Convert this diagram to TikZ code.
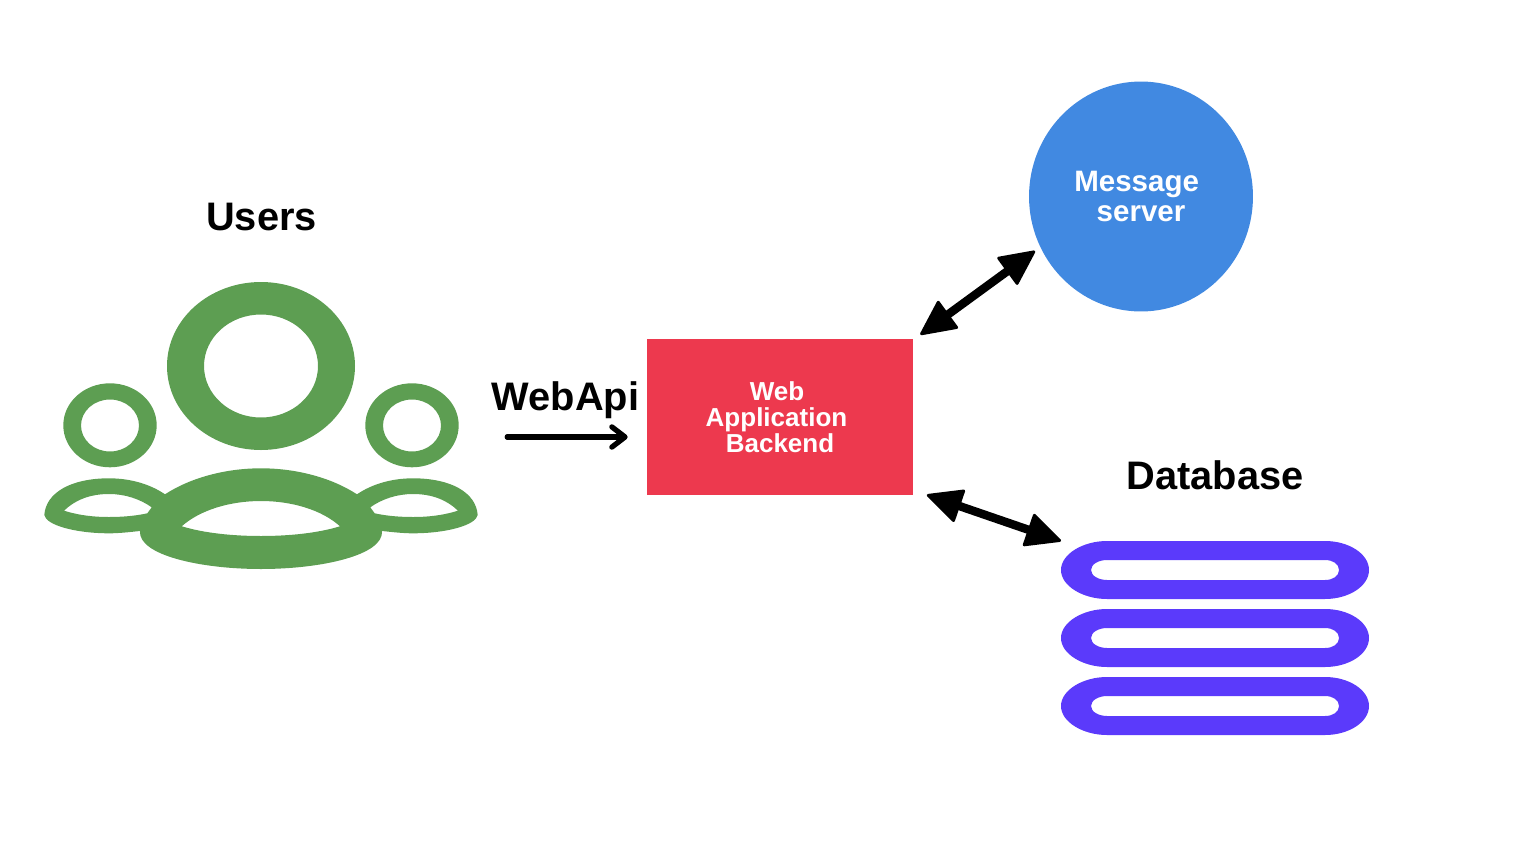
\documentclass[tikz,border=0pt]{standalone}
\usepackage{fontspec}
\setmainfont{Liberation Sans}
\usetikzlibrary{arrows.meta, shapes.geometric}
\definecolor{UserGreen}{HTML}{5D9E52}
\definecolor{BackendRed}{HTML}{ED394E}
\definecolor{MessageBlue}{HTML}{4189E1}
\definecolor{DbViolet}{HTML}{5B3AFB}

\begin{document}
\begin{tikzpicture}[
    x=0.02cm, y=-0.02cm,
    title/.style={font=\fontsize{22.65}{26}\selectfont\bfseries, anchor=base, inner sep=0pt},
    backendbox/.style={
        fill=BackendRed, minimum width=5.32cm, minimum height=3.12cm, inner sep=0pt,
        align=center, text=white, font=\fontsize{14.8}{14.8}\selectfont\bfseries
    },
    msgcircle/.style={
        ellipse, fill=MessageBlue, minimum width=4.48cm, minimum height=4.6cm, inner sep=0pt,
        align=center, text=white, font=\fontsize{16.8}{17.2}\selectfont\bfseries
    },
    icon/.style={fill=UserGreen, even odd rule},
    dbbar/.style={fill=DbViolet, even odd rule},
    dblarr/.style={{Triangle[length=21pt, width=20pt, round, line width=1.6pt]}-{Triangle[length=21pt, width=20pt, round, line width=1.6pt]}, line width=4.8pt},
    apiarr/.style={-{Straight Barb[length=7.5pt, width=11.5pt, round]}, line width=3pt, line cap=round}
]
\useasboundingbox (0,0) rectangle (1538,862);

% =============================================
% USERS ICON
% =============================================
\node[title] (users) at (261.5,230.5) {Users};

% heads
\fill[icon] (261,366) ellipse [x radius=94, y radius=84]
    (261,366) ellipse [x radius=57, y radius=51.5];
\foreach \hx in {110,412}{
    \fill[icon] (\hx,425.3) ellipse [x radius=46.7, y radius=42]
        (\hx,425.5) ellipse [x radius=29, y radius=26];
}

% bodies
\fill[icon] (261,468.3) .. controls (297,468.3) and (332,478) .. (357,494.3)
    .. controls (372,484) and (392,478.3) .. (413,478.3)
    .. controls (450,478.3) and (476,492) .. (477.7,515)
    .. controls (476,525) and (447,533.3) .. (413,533.3)
    .. controls (402,533.3) and (392,532) .. (382,531)
    .. controls (384,555) and (322,569) .. (261,569)
    .. controls (200,569) and (138,555) .. (140,531)
    .. controls (130,532) and (120,533.3) .. (109,533.3)
    .. controls (75,533.3) and (46,525) .. (44.3,515)
    .. controls (46,492) and (72,478.3) .. (109,478.3)
    .. controls (130,478.3) and (150,484) .. (165,494.3)
    .. controls (190,478) and (225,468.3) .. (261,468.3) -- cycle
    % center hole
    (181.7,526.3) .. controls (200,510) and (230,501) .. (261,501)
    .. controls (292,501) and (322,510) .. (340,526.3)
    .. controls (318,533) and (290,536) .. (261,536)
    .. controls (232,536) and (204,533) .. (181.7,526.3) -- cycle
    % left hole
    (64,510.7) .. controls (75,500) and (90,494) .. (109,494)
    .. controls (125,494) and (140,499) .. (151.7,507.3)
    -- (147.3,513.3)
    .. controls (135,516) and (122,517) .. (109,517)
    .. controls (92,517) and (78,515) .. (64,510.7) -- cycle
    % right hole
    (458,510.7) .. controls (447,500) and (432,494) .. (413,494)
    .. controls (397,494) and (382,499) .. (370.3,507.3)
    -- (374.7,513.3)
    .. controls (387,516) and (400,517) .. (413,517)
    .. controls (430,517) and (444,515) .. (458,510.7) -- cycle;

% =============================================
% BACKEND AND MESSAGE SERVER
% =============================================
\node[backendbox] (backend) at (780,417) {Web\rule{3.4pt}{0pt}\\Application\rule{4pt}{0pt}\\Backend};
\node[msgcircle] (message) at (1141,196.5) {Message\rule{5pt}{0pt}\\server};

% =============================================
% DATABASE
% =============================================
\node[title] (database) at (1215,489.5) {Database};

\foreach \by in {570,638,706}{
    \begin{scope}[shift={(0,\by)}]
        \fill[dbbar] (1107,-29) -- (1325,-29)
            .. controls (1349,-29) and (1369,-16) .. (1369,0)
            .. controls (1369,16) and (1349,29) .. (1325,29)
            -- (1107,29)
            .. controls (1083,29) and (1061,16) .. (1061,0)
            .. controls (1061,-16) and (1083,-29) .. (1107,-29) -- cycle
            (1107,-10) -- (1325,-10)
            .. controls (1333,-10) and (1339,-6) .. (1339,0)
            .. controls (1339,6) and (1333,10) .. (1325,10)
            -- (1107,10)
            .. controls (1099,10) and (1091,6) .. (1091,0)
            .. controls (1091,-6) and (1099,-10) .. (1107,-10) -- cycle;
    \end{scope}
}

% =============================================
% CONNECTORS
% =============================================
\node[title] (webapi) at (565.5,410.7) {WebApi};
\coordinate (apistart) at ([xshift=-2.79cm, yshift=-0.4cm]backend.west);
\coordinate (apiend) at ([xshift=-0.38cm, yshift=-0.4cm]backend.west);
\draw[apiarr] (apistart) -- (apiend);

\coordinate (backendtop) at ([xshift=0.14cm, yshift=0.08cm]backend.north east);
\coordinate (messageend) at ([xshift=-2.12cm, yshift=-1.09cm]message.center);
\draw[dblarr] (backendtop) -- (messageend);

\coordinate (backendlow) at ([xshift=0.27cm, yshift=0.01cm]backend.south east);
\coordinate (dbend) at ([xshift=-3.08cm, yshift=-1.03cm]database.base);
\draw[dblarr] (backendlow) -- (dbend);

\end{tikzpicture}
\end{document}
